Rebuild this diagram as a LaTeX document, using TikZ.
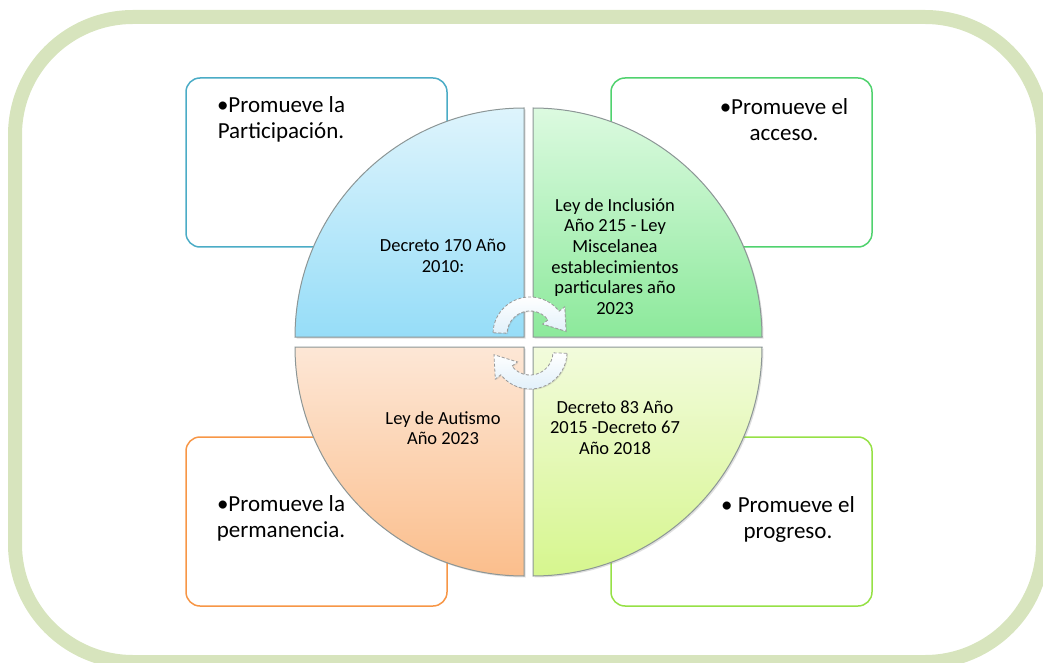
\documentclass[tikz,border=0pt]{standalone}
\usepackage{fontspec}
\setmainfont{Carlito}
\usetikzlibrary{shadows}
\definecolor{frameg}{RGB}{215,228,189}
\definecolor{cblue}{RGB}{75,172,198}
\definecolor{cgreen}{RGB}{80,210,110}
\definecolor{corange}{RGB}{247,150,70}
\definecolor{clime}{RGB}{150,225,70}
\definecolor{qedge}{RGB}{140,150,150}
\definecolor{q1t}{RGB}{222,244,252}\definecolor{q1b}{RGB}{150,221,248}
\definecolor{q2t}{RGB}{220,250,224}\definecolor{q2b}{RGB}{140,233,155}
\definecolor{q3t}{RGB}{253,231,214}\definecolor{q3b}{RGB}{251,190,140}
\definecolor{q4t}{RGB}{242,251,220}\definecolor{q4b}{RGB}{214,246,142}
\definecolor{arrb}{RGB}{225,240,250}
\tikzset{
  obox/.style={draw=#1, line width=1.5pt, rounded corners=14pt, minimum width=261pt, minimum height=169pt, inner sep=0pt, outer sep=0pt, fill=white},
  btxt/.style={align=center, inner sep=0pt, font=\fontsize{23}{25.5}\selectfont},
  itxt/.style={align=center, inner sep=0pt, font=\fontsize{18.5}{20.6}\selectfont},
  quad/.style={draw=qedge, line width=1pt, drop shadow={opacity=0.25, shadow xshift=1.5pt, shadow yshift=-1.5pt}},
  cyc/.style={draw=gray!80, densely dashed, line width=0.8pt, top color=white, bottom color=arrb, drop shadow={opacity=0.2, shadow xshift=1pt, shadow yshift=-1pt}}
}
\begin{document}
\begin{tikzpicture}[x=1pt,y=1pt]
\useasboundingbox (0,0) rectangle (1043,662);
\clip (0,0) rectangle (1043,662);
% outer frame
\draw[frameg, line width=14pt, rounded corners=118pt] (15,0) rectangle (1043,645);
% outer boxes
\node[obox=cblue] (btl) at (316.5,499.5) {};
\node[obox=cgreen] (btr) at (741.5,499.5) {};
\node[obox=corange] (bbl) at (316.5,140.5) {};
\node[obox=clime] (bbr) at (741.5,140.5) {};
% quadrants
\path[quad, top color=q1t, bottom color=q1b] (524,325) -- (295,325) arc[start angle=180, end angle=90, radius=229] -- cycle;
\path[quad, top color=q2t, bottom color=q2b] (533,325) -- (533,554) arc[start angle=90, end angle=0, radius=229] -- cycle;
\path[quad, top color=q3t, bottom color=q3b] (524,315) -- (295,315) arc[start angle=180, end angle=270, radius=229] -- cycle;
\path[quad, top color=q4t, bottom color=q4b] (533,315) -- (762,315) arc[start angle=0, end angle=-90, radius=229] -- cycle;
% circular arrows
\path[cyc] (493.0,329.3) arc[start angle=178, end angle=38, radius=37] -- (564.7,355.1) -- (566.0,330.7) -- (542.6,337.9) -- (548.1,342.2) arc[start angle=38, end angle=178, radius=23] -- cycle;
\begin{scope}[rotate around={180:(530,319)}]
\path[cyc] (493.0,329.3) arc[start angle=178, end angle=38, radius=37] -- (564.7,355.1) -- (566.0,330.7) -- (542.6,337.9) -- (548.1,342.2) arc[start angle=38, end angle=178, radius=23] -- cycle;
\end{scope}
% box texts
\node[btxt] (tlt) at (281,542.5) {•Promueve la\\Participación.};
\node[btxt] (trt) at (784,542.5) {•Promueve el\\acceso.};
\node[btxt] (blt) at (281,143.5) {•Promueve la\\permanencia.};
\node[btxt] (brt) at (788,142.5) {• Promueve el\\progreso.};
% quadrant texts
\node[itxt] (q1) at (443,406) {Decreto 170 Año\\2010:};
\node[itxt] (q2) at (615,405.5) {Ley de Inclusión\\Año 215 - Ley\\Miscelanea\\establecimientos\\particulares año\\2023};
\node[itxt] (q3) at (443,234) {Ley de Autismo\\Año 2023};
\node[itxt] (q4) at (615,234.5) {Decreto 83 Año\\2015 -Decreto 67\\Año 2018};
\end{tikzpicture}
\end{document}
